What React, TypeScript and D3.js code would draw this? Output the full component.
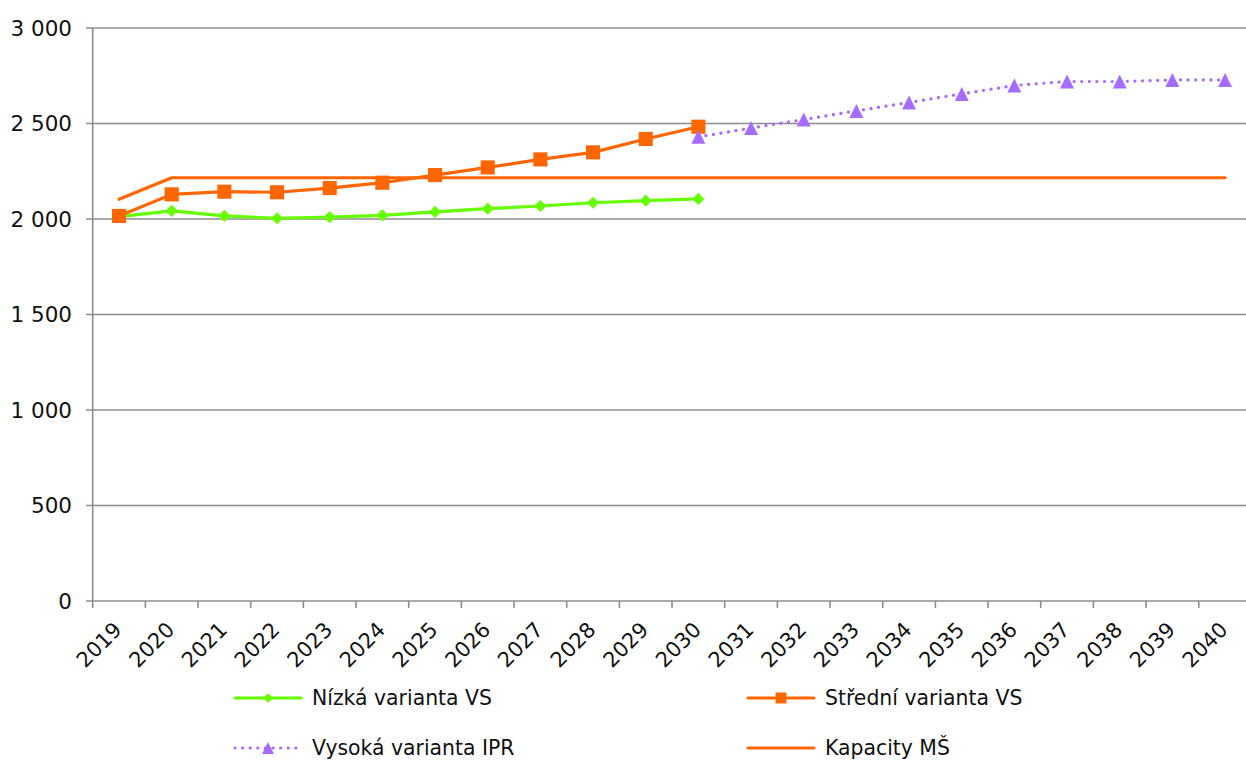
import React from "react";
import * as d3 from "d3";

const years = ["2019","2020","2021","2022","2023","2024","2025","2026","2027","2028","2029","2030","2031","2032","2033","2034","2035","2036","2037","2038","2039","2040"];
const lowYears = ["2019","2020","2021","2022","2023","2024","2025","2026","2027","2028","2029","2030"];
const lowValues = [2012, 2043, 2016, 2004, 2010, 2019, 2037, 2054, 2068, 2085, 2096, 2105];
const midValues = [2016, 2129, 2143, 2140, 2162, 2190, 2230, 2270, 2312, 2349, 2419, 2483];
const highYears = ["2030","2031","2032","2033","2034","2035","2036","2037","2038","2039","2040"];
const highValues = [2430, 2476, 2521, 2566, 2610, 2655, 2699, 2720, 2720, 2728, 2728];
const capValues = [2103, 2216, 2216, 2216, 2216, 2216, 2216, 2216, 2216, 2216, 2216, 2216, 2216, 2216, 2216, 2216, 2216, 2216, 2216, 2216, 2216, 2216];
const yTicks = [0, 500, 1000, 1500, 2000, 2500, 3000];
const seriesNames = ["Nízká varianta VS", "Střední varianta VS", "Vysoká varianta IPR", "Kapacity MŠ"];

const GREEN = "#66FF00";
const ORANGE = "#FF6600";
const PURPLE = "#A66BFF";
const GRID = "#8C8C8C";
const FONT = "'DejaVu Sans', Verdana, sans-serif";

export default function App() {
  const W = 1246, H = 760;
  const left = 92.7, right = 1251.4, top = 28, bottom = 601;
  const x = d3.scaleBand<string>().domain(years).range([left, right]).paddingInner(0).paddingOuter(0);
  const cx = (yr: string) => (x(yr) as number) + x.bandwidth() / 2;
  const y = d3.scaleLinear().domain([0, 3000]).range([bottom, top]);
  const loc = d3.formatLocale({ decimal: ",", thousands: "\u00a0", grouping: [3], currency: ["", ""] });
  const fmt = loc.format(",d");

  const line = d3.line<[number, number]>().x(d => d[0]).y(d => d[1]);
  const lowPts: [number, number][] = lowYears.map((yr, i) => [cx(yr), y(lowValues[i])]);
  const midPts: [number, number][] = lowYears.map((yr, i) => [cx(yr), y(midValues[i])]);
  const highPts: [number, number][] = highYears.map((yr, i) => [cx(yr), y(highValues[i])]);
  const capPts: [number, number][] = years.map((yr, i) => [cx(yr), y(capValues[i])]);

  const diamond = d3.symbol().type(d3.symbolDiamond2).size(95)();
  const square = d3.symbol().type(d3.symbolSquare).size(200)();
  const tri = (px: number, py: number, s = 14) => `M${px},${py - s / 2}L${px + s / 2},${py + s / 2}L${px - s / 2},${py + s / 2}Z`;

  const boundaries = d3.range(years.length + 1).map(i => left + i * x.bandwidth()).filter(b => b <= W);

  const legendRows = [698, 748];
  const legendCols = [235, 748];

  return (
    <svg width={W} height={H} style={{ position: "absolute", left: 0, top: 0, background: "#fff" }} fontFamily={FONT}>
      <rect x={0} y={0} width={W} height={H} fill="#fff" />
      {yTicks.map(t => (
        <g key={t}>
          <line x1={86} x2={W} y1={y(t)} y2={y(t)} stroke={GRID} strokeWidth={1.6} />
          <text x={72} y={y(t) + 7.5} textAnchor="end" fontSize={21.5} fill="#111">{fmt(t)}</text>
        </g>
      ))}
      <line x1={left} x2={left} y1={top} y2={bottom} stroke={GRID} strokeWidth={1.6} />
      {boundaries.map((bx, i) => (
        <line key={i} x1={bx} x2={bx} y1={bottom} y2={bottom + 7} stroke={GRID} strokeWidth={1.6} />
      ))}
      {years.map(yr => (
        <text key={yr} transform={`translate(${cx(yr) + 4},${bottom + 30}) rotate(-45)`} textAnchor="end" fontSize={21} fill="#111">{yr}</text>
      ))}

      <path d={line(lowPts) || ""} fill="none" stroke={GREEN} strokeWidth={3.2} strokeLinejoin="round" />
      {lowPts.map((p, i) => <path key={i} d={diamond || ""} transform={`translate(${p[0]},${p[1]})`} fill={GREEN} />)}

      <path d={line(midPts) || ""} fill="none" stroke={ORANGE} strokeWidth={3.2} strokeLinejoin="round" />
      {midPts.map((p, i) => <path key={i} d={square || ""} transform={`translate(${p[0]},${p[1]})`} fill={ORANGE} />)}

      <path d={line(highPts) || ""} fill="none" stroke={PURPLE} strokeWidth={3.2} strokeDasharray="0.1 7.5" strokeLinecap="round" />
      {highPts.map((p, i) => <path key={i} d={tri(p[0], p[1])} fill={PURPLE} />)}

      <path d={line(capPts) || ""} fill="none" stroke={ORANGE} strokeWidth={3.2} strokeLinecap="round" strokeLinejoin="round" />

      {seriesNames.map((name, i) => {
        const lx = legendCols[i % 2];
        const ly = legendRows[Math.floor(i / 2)];
        const mid = lx + 33;
        return (
          <g key={name}>
            {i === 2 ? (
              <line x1={lx} x2={lx + 66} y1={ly} y2={ly} stroke={PURPLE} strokeWidth={3.2} strokeDasharray="0.1 7.5" strokeLinecap="round" />
            ) : (
              <line x1={lx} x2={lx + 66} y1={ly} y2={ly} stroke={i === 0 ? GREEN : ORANGE} strokeWidth={3.2} strokeLinecap="round" />
            )}
            {i === 0 && <path d={d3.symbol().type(d3.symbolDiamond2).size(60)() || ""} transform={`translate(${mid},${ly})`} fill={GREEN} />}
            {i === 1 && <path d={d3.symbol().type(d3.symbolSquare).size(120)() || ""} transform={`translate(${mid},${ly})`} fill={ORANGE} />}
            {i === 2 && <path d={tri(mid, ly, 12)} fill={PURPLE} />}
            <text x={lx + 77} y={ly + 7} fontSize={20.4} fill="#111">{name}</text>
          </g>
        );
      })}
    </svg>
  );
}
